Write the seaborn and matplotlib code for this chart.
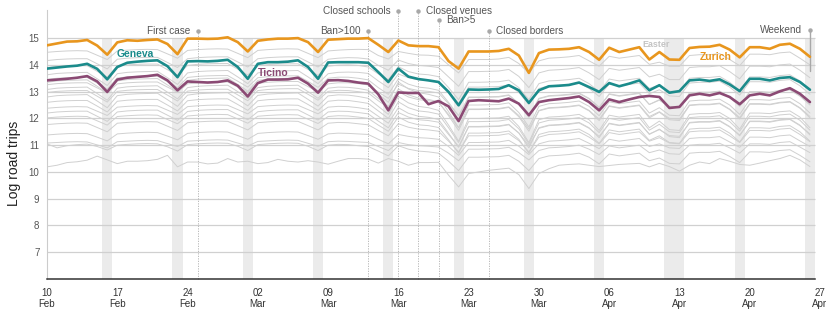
import matplotlib
matplotlib.use("Agg")
import matplotlib.pyplot as plt
import matplotlib.dates as mdates
import numpy as np
import pandas as pd
import seaborn as sns

# daily log road trips, Mon 10 Feb - Sun 26 Apr 2020 (one row = one week)
start = pd.Timestamp("2020-02-10")
dates = pd.date_range(start, periods=77, freq="D")

zurich = [
    14.73, 14.80, 14.87, 14.88, 14.93, 14.72, 14.38,
    14.84, 14.92, 14.90, 14.93, 14.95, 14.78, 14.40,
    14.98, 14.98, 14.97, 14.98, 15.03, 14.85, 14.50,
    14.90, 14.95, 14.98, 14.98, 15.00, 14.85, 14.48,
    14.94, 14.96, 14.98, 14.98, 15.00, 14.75, 14.48,
    14.91, 14.73, 14.70, 14.70, 14.66, 14.14, 13.86,
    14.50, 14.50, 14.50, 14.52, 14.60, 14.35, 13.70,
    14.44, 14.57, 14.58, 14.60, 14.66, 14.48, 14.19,
    14.64, 14.48, 14.57, 14.66, 14.20, 14.48, 14.20,
    14.19, 14.63, 14.67, 14.68, 14.75, 14.57, 14.28,
    14.66, 14.66, 14.60, 14.75, 14.79, 14.60, 14.30]

geneva = [
    13.86, 13.90, 13.94, 13.97, 14.04, 13.85, 13.46,
    13.92, 14.08, 14.12, 14.15, 14.17, 13.95, 13.54,
    14.13, 14.14, 14.13, 14.15, 14.19, 13.92, 13.48,
    14.04, 14.10, 14.10, 14.12, 14.17, 13.92, 13.48,
    14.09, 14.10, 14.10, 14.10, 14.08, 13.73, 13.36,
    13.86, 13.56, 13.47, 13.42, 13.36, 12.99, 12.49,
    13.08, 13.07, 13.08, 13.10, 13.24, 13.05, 12.58,
    13.05, 13.20, 13.22, 13.25, 13.34, 13.17, 12.99,
    13.32, 13.20, 13.30, 13.42, 13.05, 13.24, 12.96,
    13.02, 13.42, 13.45, 13.40, 13.46, 13.27, 13.02,
    13.48, 13.48, 13.42, 13.51, 13.54, 13.36, 13.07]

ticino = [
    13.42, 13.45, 13.48, 13.52, 13.58, 13.38, 12.99,
    13.45, 13.52, 13.55, 13.58, 13.63, 13.42, 13.05,
    13.38, 13.36, 13.34, 13.36, 13.42, 13.22, 12.82,
    13.32, 13.45, 13.45, 13.46, 13.52, 13.30, 12.96,
    13.42, 13.43, 13.40, 13.34, 13.30, 12.90, 12.30,
    12.97, 12.95, 12.95, 12.53, 12.65, 12.45, 11.90,
    12.65, 12.68, 12.66, 12.64, 12.74, 12.55, 12.12,
    12.61, 12.68, 12.72, 12.76, 12.82, 12.61, 12.30,
    12.71, 12.61, 12.71, 12.80, 12.84, 12.80, 12.39,
    12.43, 12.86, 12.92, 12.86, 12.95, 12.80, 12.53,
    12.86, 12.92, 12.86, 13.01, 13.13, 12.92, 12.61]

# remaining cantons (grey background lines)
other_01 = [
    14.47, 14.50, 14.52, 14.53, 14.52, 14.36, 14.20,
    14.52, 14.55, 14.57, 14.58, 14.57, 14.41, 14.25,
    14.54, 14.57, 14.59, 14.60, 14.59, 14.43, 14.27,
    14.54, 14.57, 14.59, 14.60, 14.59, 14.43, 14.27,
    14.52, 14.55, 14.57, 14.58, 14.57, 14.35, 14.22,
    14.50, 14.43, 14.37, 14.36, 14.32, 14.00, 13.70,
    14.20, 14.20, 14.20, 14.22, 14.28, 14.05, 13.70,
    14.15, 14.25, 14.27, 14.30, 14.35, 14.15, 13.95,
    14.32, 14.25, 14.30, 14.35, 14.02, 14.10, 13.95,
    13.95, 14.35, 14.38, 14.38, 14.42, 14.20, 13.97,
    14.40, 14.40, 14.38, 14.45, 14.48, 14.25, 14.00]
other_02 = [
    14.16, 14.20, 14.22, 14.23, 14.23, 14.04, 13.85,
    14.21, 14.25, 14.27, 14.28, 14.28, 14.09, 13.90,
    14.23, 14.27, 14.29, 14.30, 14.30, 14.11, 13.92,
    14.23, 14.27, 14.29, 14.30, 14.30, 14.11, 13.92,
    14.21, 14.25, 14.27, 14.26, 14.22, 13.98, 13.80,
    14.18, 14.05, 13.98, 13.95, 13.90, 13.55, 13.20,
    13.75, 13.75, 13.76, 13.77, 13.83, 13.57, 13.15,
    13.70, 13.80, 13.82, 13.85, 13.90, 13.70, 13.45,
    13.87, 13.80, 13.85, 13.90, 13.55, 13.65, 13.45,
    13.45, 13.90, 13.93, 13.93, 13.97, 13.75, 13.48,
    13.95, 13.95, 13.93, 14.00, 14.03, 13.80, 13.52]
other_03 = [
    13.90, 13.94, 13.96, 13.97, 13.97, 13.76, 13.54,
    13.96, 14.00, 14.02, 14.03, 14.03, 13.82, 13.60,
    13.98, 14.02, 14.04, 14.05, 14.05, 13.84, 13.62,
    13.97, 14.01, 14.03, 14.04, 14.04, 13.83, 13.61,
    13.95, 13.99, 14.00, 13.98, 13.92, 13.66, 13.45,
    13.93, 13.75, 13.66, 13.63, 13.56, 13.15, 12.70,
    13.35, 13.35, 13.36, 13.37, 13.43, 13.15, 12.70,
    13.30, 13.40, 13.42, 13.45, 13.50, 13.30, 13.00,
    13.47, 13.40, 13.45, 13.50, 13.12, 13.25, 13.02,
    13.00, 13.50, 13.53, 13.53, 13.57, 13.35, 13.05,
    13.55, 13.55, 13.53, 13.60, 13.63, 13.40, 13.08]
other_04 = [
    13.63, 13.68, 13.70, 13.71, 13.72, 13.48, 13.23,
    13.67, 13.72, 13.74, 13.75, 13.76, 13.52, 13.27,
    13.70, 13.75, 13.77, 13.78, 13.79, 13.55, 13.30,
    13.70, 13.75, 13.77, 13.78, 13.79, 13.55, 13.30,
    13.67, 13.72, 13.73, 13.72, 13.68, 13.40, 13.15,
    13.66, 13.52, 13.44, 13.42, 13.36, 12.98, 12.55,
    13.17, 13.17, 13.18, 13.19, 13.25, 12.97, 12.52,
    13.12, 13.22, 13.24, 13.27, 13.32, 13.12, 12.82,
    13.29, 13.22, 13.27, 13.32, 12.92, 13.07, 12.84,
    12.82, 13.32, 13.35, 13.35, 13.39, 13.17, 12.87,
    13.37, 13.37, 13.35, 13.42, 13.45, 13.22, 12.90]
other_05 = [
    13.46, 13.50, 13.52, 13.53, 13.53, 13.32, 13.10,
    13.51, 13.55, 13.57, 13.58, 13.58, 13.37, 13.15,
    13.53, 13.57, 13.59, 13.60, 13.60, 13.39, 13.17,
    13.52, 13.56, 13.58, 13.59, 13.59, 13.38, 13.16,
    13.50, 13.54, 13.54, 13.50, 13.44, 13.15, 12.90,
    13.48, 13.28, 13.17, 13.13, 13.05, 12.60, 12.10,
    12.80, 12.80, 12.81, 12.82, 12.88, 12.56, 12.05,
    12.75, 12.85, 12.87, 12.90, 12.95, 12.75, 12.42,
    12.92, 12.85, 12.90, 12.95, 12.52, 12.70, 12.45,
    12.42, 12.95, 12.98, 12.98, 13.02, 12.80, 12.48,
    13.00, 13.00, 12.98, 13.05, 13.08, 12.85, 12.52]
other_06 = [
    13.26, 13.30, 13.32, 13.33, 13.33, 13.14, 12.95,
    13.29, 13.33, 13.35, 13.36, 13.36, 13.17, 12.98,
    13.29, 13.33, 13.35, 13.36, 13.36, 13.17, 12.98,
    13.31, 13.35, 13.37, 13.38, 13.38, 13.19, 13.00,
    13.29, 13.33, 13.33, 13.30, 13.25, 12.98, 12.75,
    13.28, 13.12, 13.04, 13.01, 12.95, 12.55, 12.10,
    12.78, 12.78, 12.79, 12.80, 12.86, 12.56, 12.05,
    12.73, 12.83, 12.85, 12.88, 12.93, 12.73, 12.40,
    12.90, 12.83, 12.88, 12.93, 12.52, 12.68, 12.42,
    12.40, 12.93, 12.96, 12.96, 13.00, 12.78, 12.45,
    12.98, 12.98, 12.96, 13.03, 13.06, 12.83, 12.50]
other_07 = [
    13.08, 13.13, 13.15, 13.16, 13.17, 12.93, 12.68,
    13.13, 13.18, 13.20, 13.21, 13.22, 12.98, 12.73,
    13.15, 13.20, 13.22, 13.23, 13.24, 13.00, 12.75,
    13.15, 13.20, 13.22, 13.23, 13.24, 13.00, 12.75,
    13.13, 13.17, 13.16, 13.12, 13.05, 12.75, 12.45,
    13.10, 12.88, 12.76, 12.71, 12.62, 12.10, 11.55,
    12.33, 12.33, 12.34, 12.35, 12.41, 12.06, 11.52,
    12.28, 12.38, 12.40, 12.43, 12.48, 12.28, 11.92,
    12.45, 12.38, 12.43, 12.48, 12.02, 12.23, 11.95,
    11.92, 12.48, 12.51, 12.51, 12.55, 12.33, 11.98,
    12.53, 12.53, 12.51, 12.58, 12.61, 12.38, 12.02]
other_08 = [
    12.97, 13.01, 13.03, 13.04, 13.04, 12.83, 12.61,
    13.01, 13.05, 13.07, 13.08, 13.08, 12.87, 12.65,
    13.02, 13.06, 13.08, 13.09, 13.09, 12.88, 12.66,
    13.04, 13.08, 13.10, 13.11, 13.11, 12.90, 12.68,
    13.01, 13.05, 13.04, 13.00, 12.95, 12.66, 12.40,
    13.00, 12.80, 12.70, 12.66, 12.60, 12.15, 11.65,
    12.35, 12.35, 12.36, 12.37, 12.43, 12.11, 11.60,
    12.30, 12.40, 12.42, 12.45, 12.50, 12.30, 11.97,
    12.47, 12.40, 12.45, 12.50, 12.07, 12.25, 12.00,
    11.97, 12.50, 12.53, 12.53, 12.57, 12.35, 12.03,
    12.55, 12.55, 12.53, 12.60, 12.63, 12.40, 12.07]
other_09 = [
    12.80, 12.85, 12.87, 12.88, 12.89, 12.65, 12.40,
    12.85, 12.90, 12.92, 12.93, 12.94, 12.70, 12.45,
    12.87, 12.92, 12.94, 12.95, 12.96, 12.72, 12.47,
    12.86, 12.91, 12.93, 12.94, 12.95, 12.71, 12.46,
    12.84, 12.88, 12.87, 12.82, 12.75, 12.45, 12.15,
    12.82, 12.58, 12.45, 12.40, 12.30, 11.75, 11.15,
    12.00, 12.00, 12.01, 12.02, 12.08, 11.70, 11.10,
    11.95, 12.05, 12.07, 12.10, 12.15, 11.95, 11.55,
    12.12, 12.05, 12.10, 12.15, 11.65, 11.90, 11.58,
    11.55, 12.15, 12.18, 12.18, 12.22, 12.00, 11.60,
    12.20, 12.20, 12.18, 12.25, 12.28, 12.05, 11.65]
other_10 = [
    12.60, 12.64, 12.66, 12.67, 12.67, 12.46, 12.24,
    12.64, 12.68, 12.70, 12.71, 12.71, 12.50, 12.28,
    12.66, 12.70, 12.72, 12.73, 12.73, 12.52, 12.30,
    12.66, 12.70, 12.72, 12.73, 12.73, 12.52, 12.30,
    12.64, 12.68, 12.67, 12.62, 12.56, 12.28, 12.00,
    12.62, 12.40, 12.28, 12.24, 12.16, 11.65, 11.10,
    11.88, 11.88, 11.89, 11.90, 11.96, 11.61, 11.05,
    11.83, 11.93, 11.95, 11.98, 12.03, 11.83, 11.47,
    12.00, 11.93, 11.98, 12.03, 11.56, 11.78, 11.50,
    11.47, 12.03, 12.06, 12.06, 12.10, 11.88, 11.52,
    12.08, 12.08, 12.06, 12.13, 12.16, 11.93, 11.56]
other_11 = [
    12.38, 12.41, 12.43, 12.44, 12.43, 12.27, 12.11,
    12.42, 12.45, 12.47, 12.48, 12.47, 12.31, 12.15,
    12.44, 12.47, 12.49, 12.50, 12.49, 12.33, 12.17,
    12.44, 12.47, 12.49, 12.50, 12.49, 12.33, 12.17,
    12.42, 12.45, 12.44, 12.40, 12.34, 12.08, 11.82,
    12.40, 12.19, 12.08, 12.04, 11.96, 11.45, 10.92,
    11.70, 11.70, 11.71, 11.72, 11.78, 11.45, 10.90,
    11.65, 11.75, 11.77, 11.80, 11.85, 11.65, 11.28,
    11.82, 11.75, 11.80, 11.85, 11.40, 11.60, 11.32,
    11.28, 11.85, 11.88, 11.88, 11.92, 11.70, 11.35,
    11.90, 11.90, 11.88, 11.95, 11.98, 11.75, 11.38]
other_12 = [
    12.02, 12.05, 12.07, 12.08, 12.07, 11.91, 11.75,
    12.07, 12.10, 12.12, 12.13, 12.12, 11.96, 11.80,
    12.09, 12.12, 12.14, 12.15, 12.14, 11.98, 11.82,
    12.08, 12.11, 12.13, 12.14, 12.13, 11.97, 11.81,
    12.07, 12.10, 12.09, 12.05, 12.00, 11.75, 11.52,
    12.05, 11.86, 11.76, 11.73, 11.66, 11.20, 10.70,
    11.45, 11.45, 11.46, 11.47, 11.53, 11.22, 10.70,
    11.40, 11.50, 11.52, 11.55, 11.60, 11.40, 11.07,
    11.57, 11.50, 11.55, 11.60, 11.18, 11.35, 11.10,
    11.07, 11.60, 11.63, 11.63, 11.67, 11.45, 11.12,
    11.65, 11.65, 11.63, 11.70, 11.73, 11.50, 11.15]
other_13 = [
    11.77, 11.80, 11.82, 11.83, 11.82, 11.66, 11.50,
    11.82, 11.85, 11.87, 11.88, 11.87, 11.71, 11.55,
    11.84, 11.87, 11.89, 11.90, 11.89, 11.73, 11.57,
    11.84, 11.87, 11.89, 11.90, 11.89, 11.73, 11.57,
    11.82, 11.85, 11.84, 11.80, 11.76, 11.55, 11.35,
    11.80, 11.67, 11.60, 11.57, 11.52, 11.15, 10.75,
    11.35, 11.35, 11.36, 11.37, 11.43, 11.17, 10.75,
    11.30, 11.40, 11.42, 11.45, 11.50, 11.30, 11.05,
    11.47, 11.40, 11.45, 11.50, 11.15, 11.28, 11.08,
    11.05, 11.50, 11.53, 11.53, 11.57, 11.35, 11.10,
    11.55, 11.55, 11.53, 11.60, 11.63, 11.40, 11.13]
other_14 = [
    11.38, 11.41, 11.43, 11.44, 11.43, 11.30, 11.16,
    11.42, 11.45, 11.47, 11.48, 11.47, 11.34, 11.20,
    11.44, 11.47, 11.49, 11.50, 11.49, 11.36, 11.22,
    11.44, 11.47, 11.49, 11.50, 11.49, 11.36, 11.22,
    11.42, 11.45, 11.44, 11.42, 11.40, 11.22, 11.05,
    11.40, 11.33, 11.28, 11.26, 11.22, 10.95, 10.62,
    11.10, 11.10, 11.11, 11.12, 11.18, 10.96, 10.65,
    11.05, 11.15, 11.17, 11.20, 11.25, 11.07, 10.87,
    11.22, 11.15, 11.20, 11.25, 10.95, 11.05, 10.90,
    10.88, 11.25, 11.28, 11.28, 11.32, 11.12, 10.92,
    11.30, 11.30, 11.28, 11.35, 11.38, 11.16, 10.95]
other_15 = [
    11.08, 11.10, 11.12, 11.13, 11.12, 11.01, 10.90,
    11.13, 11.15, 11.17, 11.18, 11.17, 11.06, 10.95,
    11.15, 11.17, 11.19, 11.20, 11.19, 11.08, 10.97,
    11.14, 11.16, 11.18, 11.19, 11.18, 11.07, 10.96,
    11.13, 11.15, 11.14, 11.12, 11.10, 10.95, 10.80,
    11.10, 11.02, 10.98, 10.96, 10.93, 10.70, 10.42,
    10.85, 10.85, 10.86, 10.87, 10.92, 10.72, 10.45,
    10.80, 10.90, 10.92, 10.95, 11.00, 10.85, 10.65,
    10.97, 10.90, 10.95, 11.00, 10.72, 10.82, 10.68,
    10.66, 11.00, 11.03, 11.03, 11.07, 10.90, 10.70,
    11.05, 11.05, 11.03, 11.10, 11.13, 10.93, 10.72]
other_16 = [
    10.19, 10.25, 10.35, 10.38, 10.44, 10.59, 10.45,
    10.31, 10.40, 10.40, 10.42, 10.47, 10.62, 10.19,
    10.37, 10.37, 10.30, 10.33, 10.50, 10.37, 10.40,
    10.31, 10.35, 10.47, 10.40, 10.37, 10.42, 10.37,
    10.29, 10.40, 10.50, 10.50, 10.48, 10.33, 10.50,
    10.40, 10.25, 10.35, 10.35, 10.36, 9.88, 9.44,
    9.94, 10.00, 10.06, 10.10, 10.14, 9.90, 9.38,
    9.94, 10.12, 10.25, 10.28, 10.30, 10.25, 10.20,
    10.24, 10.28, 10.30, 10.32, 10.19, 10.32, 10.20,
    10.03, 10.25, 10.37, 10.31, 10.50, 10.40, 10.28,
    10.25, 10.33, 10.42, 10.50, 10.62, 10.45, 10.20]
other_17 = [
    12.20, 12.24, 12.26, 12.27, 12.27, 12.08, 11.89,
    12.24, 12.28, 12.30, 12.31, 12.31, 12.12, 11.93,
    12.26, 12.30, 12.32, 12.33, 12.33, 12.14, 11.95,
    12.25, 12.29, 12.31, 12.32, 12.32, 12.13, 11.94,
    12.24, 12.27, 12.26, 12.22, 12.17, 11.90, 11.65,
    12.22, 12.05, 11.95, 11.92, 11.86, 11.40, 10.95,
    11.68, 11.68, 11.69, 11.70, 11.76, 11.46, 10.98,
    11.63, 11.73, 11.75, 11.78, 11.83, 11.63, 11.33,
    11.80, 11.73, 11.78, 11.83, 11.42, 11.58, 11.36,
    11.33, 11.83, 11.86, 11.86, 11.90, 11.68, 11.38,
    11.88, 11.88, 11.86, 11.93, 11.96, 11.73, 11.42]
other_18 = [
    13.35, 13.40, 13.42, 13.43, 13.44, 13.20, 12.95,
    13.40, 13.45, 13.47, 13.48, 13.49, 13.25, 13.00,
    13.42, 13.47, 13.49, 13.50, 13.51, 13.27, 13.02,
    13.42, 13.47, 13.49, 13.50, 13.51, 13.27, 13.02,
    13.40, 13.43, 13.40, 13.34, 13.25, 12.92, 12.60,
    13.36, 13.10, 12.96, 12.90, 12.80, 12.25, 11.65,
    12.50, 12.50, 12.51, 12.52, 12.58, 12.22, 11.68,
    12.45, 12.55, 12.57, 12.60, 12.65, 12.45, 12.10,
    12.62, 12.55, 12.60, 12.65, 12.20, 12.40, 12.12,
    12.10, 12.65, 12.68, 12.68, 12.72, 12.50, 12.15,
    12.70, 12.70, 12.68, 12.75, 12.78, 12.55, 12.20]
other_19 = [
    11.05, 10.90, 10.98, 11.02, 11.04, 10.95, 10.82,
    11.00, 11.03, 11.05, 11.06, 11.05, 10.94, 10.78,
    11.02, 11.05, 11.07, 11.08, 11.07, 10.96, 10.80,
    11.02, 11.05, 11.07, 11.08, 11.07, 10.96, 10.80,
    11.00, 11.03, 11.02, 10.98, 10.95, 10.78, 10.60,
    10.98, 10.85, 10.78, 10.75, 10.70, 10.40, 10.05,
    10.55, 10.55, 10.56, 10.57, 10.62, 10.40, 10.05,
    10.50, 10.60, 10.62, 10.65, 10.70, 10.55, 10.30,
    10.67, 10.60, 10.65, 10.70, 10.42, 10.52, 10.32,
    10.30, 10.70, 10.73, 10.73, 10.77, 10.58, 10.35,
    10.75, 10.75, 10.73, 10.80, 10.83, 10.62, 10.38]

others = [other_01, other_02, other_03, other_04, other_05, other_06, other_07,
          other_08, other_09, other_10, other_11, other_12, other_13, other_14,
          other_15, other_16, other_17, other_18, other_19]

highlight_names = ["Zurich", "Geneva", "Ticino"]
highlight_values = [zurich, geneva, ticino]
highlight_colors = ["#e8961e", "#1b8b8b", "#8b4a74"]

# Sundays + Easter Monday get a grey band
holidays = [pd.Timestamp("2020-04-13")]
shaded = [d for d in dates if d.dayofweek == 6] + holidays

events = ["First case", "Ban>100", "Closed schools", "Closed venues", "Ban>5", "Closed borders"]
event_dates = pd.to_datetime(["2020-02-25", "2020-03-13", "2020-03-16",
                              "2020-03-18", "2020-03-20", "2020-03-25"])

# long tables for seaborn
grey_df = pd.concat([pd.DataFrame({"date": dates, "value": v, "canton": i})
                     for i, v in enumerate(others)], ignore_index=True)
hi_df = pd.concat([pd.DataFrame({"date": dates, "value": v, "canton": n})
                   for n, v in zip(highlight_names, highlight_values)], ignore_index=True)

sns.set_theme(style="white")
plt.rcParams["font.family"] = ["Liberation Sans", "DejaVu Sans"]

fig = plt.figure(figsize=(8.3, 3.12), dpi=100)
ax = fig.add_axes([47 / 830, 1 - 279 / 312, 773 / 830, 269 / 312])

half = pd.Timedelta(hours=12)
for d in shaded:
    ax.fill_betweenx([6, 15], d - half, d + half, color="#ebebeb", lw=0, zorder=0)

ax.hlines(range(7, 16), dates[0], dates[-1] + half, color="#d0d0d0", lw=0.9, zorder=0.5)

sns.lineplot(data=grey_df, x="date", y="value", units="canton", estimator=None,
             color="#d0d0d0", lw=0.7, ax=ax, zorder=1)
sns.lineplot(data=hi_df, x="date", y="value", hue="canton", hue_order=highlight_names,
             palette=highlight_colors, lw=1.9, legend=False, ax=ax, zorder=3)

# event markers
ev_top = [15.25, 15.25, 16.03, 16.03, 15.66, 15.25]
ev_side = ["left", "left", "left", "right", "right", "right"]
for name, d, top, side in zip(events, event_dates, ev_top, ev_side):
    ax.plot([d, d], [6, top], ls=(0, (1.5, 1.5)), color="#b0b0b0", lw=0.6,
            clip_on=False, zorder=2)
    ax.plot([d], [top], "o", ms=2.2, color="#a8a8a8", clip_on=False, zorder=2)
    off = -5.5 if side == "left" else 5.5
    ax.annotate(name, xy=(d, top), xytext=(off, 0), textcoords="offset points",
                ha="right" if side == "left" else "left", va="center",
                fontsize=7.2, color="#555555", annotation_clip=False)

# weekend pointer
wk = dates[-1]
ax.plot([wk, wk], [13.77, 15.29], color="#a8a8a8", lw=1, zorder=2)
ax.plot([wk], [15.29], "o", ms=2.2, color="#a8a8a8", zorder=2)
ax.annotate("Weekend", xy=(wk, 15.29), xytext=(-5.5, 0), textcoords="offset points",
            ha="right", va="center", fontsize=7.2, color="#555555")

# series labels
ax.text(start + pd.Timedelta(days=6.9), 14.42, "Geneva", color=highlight_colors[1],
        fontsize=7.5, fontweight="bold", va="center", ha="left")
ax.text(start + pd.Timedelta(days=21.0), 13.69, "Ticino", color=highlight_colors[2],
        fontsize=7.5, fontweight="bold", va="center", ha="left")
ax.text(start + pd.Timedelta(days=65.0), 14.29, "Zurich", color=highlight_colors[0],
        fontsize=7.5, fontweight="bold", va="center", ha="left")
ax.text(start + pd.Timedelta(days=59.3), 14.76, "Easter", color="#c4c4c4",
        fontsize=6.4, fontweight="bold", va="center", ha="left")

ax.set_xlim(start, start + pd.Timedelta(days=77))
ax.set_ylim(6, 16.05)
ax.set_yticks(range(7, 16))
ax.set_xticks(pd.date_range(start, periods=12, freq="7D"))
ax.xaxis.set_major_formatter(mdates.DateFormatter("%d\n%b"))
ax.tick_params(axis="y", length=0, pad=5.5, labelsize=7, labelcolor="#555555")
ax.tick_params(axis="x", length=2.2, width=0.8, color="#333333", pad=4,
               labelsize=7, labelcolor="#333333")
ax.set_xlabel("")
ax.set_ylabel("Log road trips", fontsize=10, color="#222222")
ax.yaxis.set_label_coords(-0.034, 0.43)

for s in ["top", "right"]:
    ax.spines[s].set_visible(False)
ax.spines["left"].set_color("#cccccc")
ax.spines["left"].set_linewidth(0.8)
ax.spines["bottom"].set_color("#333333")
ax.spines["bottom"].set_linewidth(1.1)
ax.spines["bottom"].set_bounds(mdates.date2num(dates[0]), mdates.date2num(dates[-1] + half))

fig.savefig("out.png", dpi=100)
